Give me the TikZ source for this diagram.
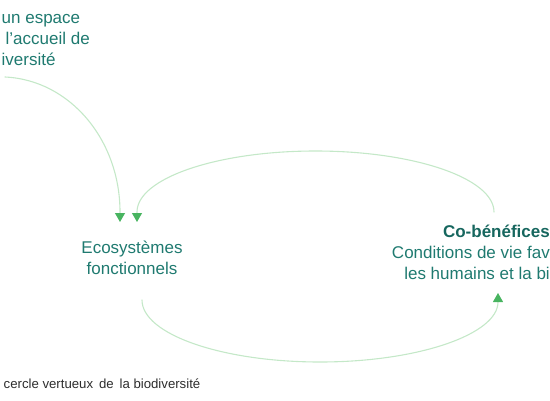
\documentclass[tikz,border=0pt]{standalone}
\usepackage{fontspec}
\setmainfont{Liberation Sans}
\usetikzlibrary{arrows.meta}
\definecolor{tealtext}{RGB}{31,122,112}
\definecolor{tealbold}{RGB}{22,102,94}
\definecolor{linegreen}{RGB}{196,232,200}
\definecolor{tipgreen}{RGB}{72,180,96}
\definecolor{captiongray}{RGB}{45,45,45}
\begin{document}
\begin{tikzpicture}[x=1pt,y=-1pt,
  lbl/.style={inner sep=0pt,text=tealtext,font=\fontsize{17}{21}\selectfont},
  conn/.style={draw=linegreen,line width=1.1pt,line cap=round,
    -{Triangle[length=9pt,width=10pt,color=tipgreen]}}]
\useasboundingbox (0,0) rectangle (550,400);
% texts (base anchor = baseline of the last line)
\node[lbl,align=left,anchor=base west] (src) at (1.5,65)
  {un espace\\\hspace*{4pt}l’accueil de\\iversité};
\node[lbl,align=center,anchor=base] (eco) at (132,274)
  {Ecosystèmes\\fonctionnels};
\node[lbl,align=right,anchor=base east] (cob) at (550,279)
  {\textcolor{tealbold}{\bfseries Co-bénéfices}\\Conditions de vie fav\\les humains et la bi};
\node[inner sep=0pt,anchor=base west,text=captiongray,font=\fontsize{13.2}{16}\selectfont] (cap) at (3.5,388)
  {cercle vertueux\, de\, la biodiversité};
% connector end points
\coordinate (s1) at (5,77);
\coordinate (e1) at (120,222);
\coordinate (s2) at (494,212);
\coordinate (top2) at (315.5,151);
\coordinate (e2) at (137,222);
\coordinate (s3) at (142,300);
\coordinate (bot3) at (320,362);
\coordinate (e3) at (498,293);
% connectors
\draw[conn] (s1) .. controls (70,80) and (120,140) .. (120,212) -- (e1);
\draw[conn] (s2) .. controls (494,178.3) and (414.1,151) .. (top2)
  .. controls (216.9,151) and (137,178.3) .. (137,212) -- (e2);
\draw[conn] (s3) .. controls (142,334.2) and (221.7,362) .. (bot3)
  .. controls (418.3,362) and (498,334.2) .. (498,302) -- (e3);
\end{tikzpicture}
\end{document}
